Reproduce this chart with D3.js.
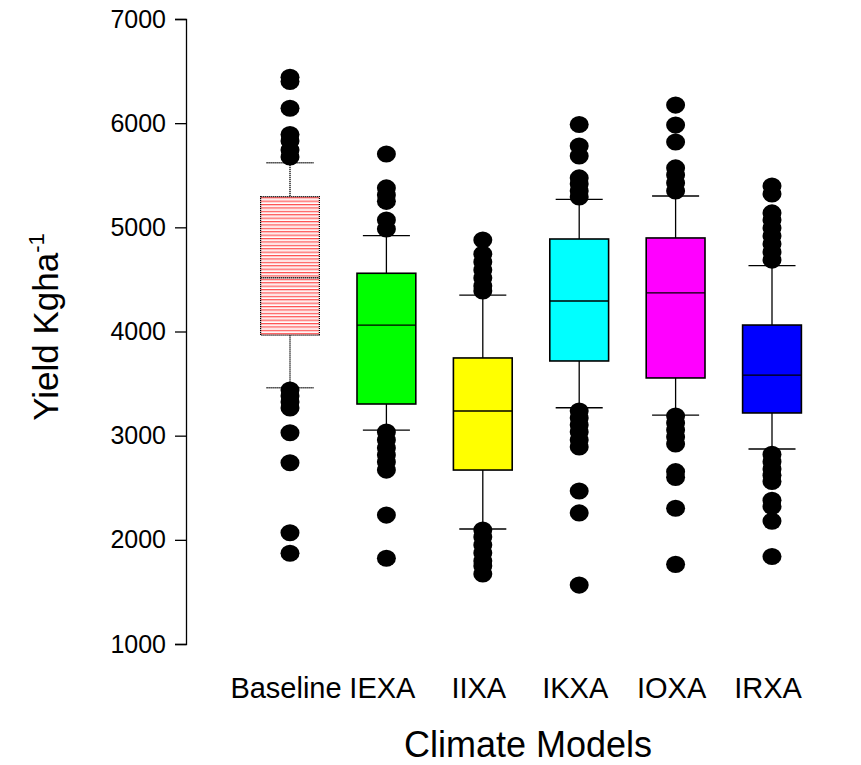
<!DOCTYPE html>
<html><head><meta charset="utf-8">
<script src="https://cdn.jsdelivr.net/npm/d3@7"></script>
<style>body{margin:0;background:#fff}svg{display:block}text{font-family:Arial,"Liberation Sans",sans-serif}</style>
</head><body>
<svg id="c" width="861" height="765"></svg>
<script>
const categories = ["Baseline","IEXA","IIXA","IKXA","IOXA","IRXA"];
const whiskerLow  = [3460, 3054, 2104, 3268, 3198, 2872];
const q1          = [3966, 3304, 2670, 3717, 3554, 3218];
const median      = [4516, 4062, 3237, 4293, 4370, 3582];
const q3          = [5294, 4559, 3746, 4888, 4898, 4062];
const whiskerHigh = [5620, 4920, 4350, 5269, 5301, 4632];
const outBaseline = [6440, 6400, 6143, 5891, 5829, 5742, 5675, 3438, 3381, 3323, 3266, 3028, 2740, 2068, 1871];
const outIEXA = [5704, 5378, 5310, 5250, 5070, 4984, 3035, 2958, 2882, 2814, 2747, 2670, 2238, 1823];
const outIIXA = [4878, 4744, 4667, 4590, 4514, 4437, 4389, 2094, 2027, 1950, 1874, 1797, 1749, 1672];
const outIKXA = [5987, 5781, 5685, 5474, 5416, 5349, 5291, 3237, 3170, 3102, 3035, 2958, 2891, 2469, 2258, 1566];
const outIOXA = [6174, 5982, 5819, 5570, 5502, 5426, 5349, 3189, 3122, 3054, 2987, 2920, 2654, 2600, 2303, 1765];
const outIRXA = [5397, 5320, 5138, 5070, 4994, 4917, 4840, 4763, 4686, 2820, 2750, 2680, 2620, 2560, 2380, 2320, 2180, 1840];
const outliers = [outBaseline, outIEXA, outIIXA, outIKXA, outIOXA, outIRXA];
const fills = ["url(#hatch)", "#00ff00", "#ffff00", "#00ffff", "#ff00ff", "#0000ff"];
const yTicks = [1000, 2000, 3000, 4000, 5000, 6000, 7000];

const svg = d3.select("#c");
const defs = svg.append("defs");
const pat = defs.append("pattern").attr("id","hatch").attr("patternUnits","userSpaceOnUse")
  .attr("width", 8).attr("height", 3.4);
pat.append("rect").attr("width",8).attr("height",3.4).attr("fill","#fff");
pat.append("rect").attr("y",0).attr("width",8).attr("height",1).attr("fill","#ff4a4a");
pat.append("rect").attr("y",1).attr("width",8).attr("height",1).attr("fill","#ffb4b4");

const y = d3.scaleLinear().domain([1000, 7000]).range([644, 19]);
const x = d3.scaleBand().domain(categories).range([241.8, 820.2]).paddingInner(0.39).paddingOuter(0.195);
const bw = x.bandwidth();
const cx = c => x(c) + bw / 2;

// y axis
const ya = svg.append("g").attr("transform","translate(186,0)")
  .call(d3.axisLeft(y).tickValues(yTicks).tickSize(11).tickPadding(9).tickFormat(d3.format("d")));
ya.select(".domain").attr("stroke","#000").attr("stroke-width",1.3);
ya.selectAll(".tick line").attr("stroke","#000").attr("stroke-width",1.3);
ya.selectAll(".tick text").attr("font-size",25).attr("fill","#000")
  .style("font-family","Arial, 'Liberation Sans', sans-serif");

// x labels
const xa = svg.append("g").attr("transform","translate(0,644)")
  .call(d3.axisBottom(x).tickSize(0).tickPadding(33));
xa.select(".domain").remove();
xa.selectAll(".tick text").attr("font-size",29).attr("dx",-4).attr("fill","#000")
  .style("font-family","Arial, 'Liberation Sans', sans-serif");

const g = svg.append("g");
categories.forEach((c, i) => {
  const cxi = cx(c);
  const dashed = i === 0 ? "1.2,0.8" : null;
  const capW = bw * 0.8;
  [[whiskerHigh[i], q3[i]], [whiskerLow[i], q1[i]]].forEach(([a, b]) => {
    g.append("line").attr("x1",cxi).attr("x2",cxi).attr("y1",y(a)).attr("y2",y(b))
      .attr("stroke","#000").attr("stroke-width",1.3).attr("stroke-dasharray",dashed);
    g.append("line").attr("x1",cxi-capW/2).attr("x2",cxi+capW/2).attr("y1",y(a)).attr("y2",y(a))
      .attr("stroke","#000").attr("stroke-width",1.3).attr("stroke-dasharray",dashed);
  });
  g.append("rect").attr("x",x(c)).attr("width",bw).attr("y",y(q3[i])).attr("height",y(q1[i])-y(q3[i]))
    .attr("fill",fills[i]).attr("stroke","#000").attr("stroke-width",i===0?1.2:1.6).attr("stroke-dasharray",dashed);
  g.append("line").attr("x1",x(c)).attr("x2",x(c)+bw).attr("y1",y(median[i])).attr("y2",y(median[i]))
    .attr("stroke","#000").attr("stroke-width",1.3).attr("stroke-dasharray",dashed);
  g.selectAll(null).data(outliers[i]).enter().append("ellipse")
    .attr("cx",cxi).attr("cy",d=>y(d)).attr("rx",9.5).attr("ry",8.6).attr("fill","#000");
});

// axis titles
svg.append("text").attr("x",528).attr("y",757).attr("text-anchor","middle").attr("font-size",36).text("Climate Models");
const yt = svg.append("text").attr("transform","translate(58,327) rotate(-90)").attr("text-anchor","middle").attr("font-size",35);
yt.append("tspan").text("Yield Kgha");
yt.append("tspan").attr("dy",-14).attr("font-size",22).text("-1");
</script>
</body></html>
